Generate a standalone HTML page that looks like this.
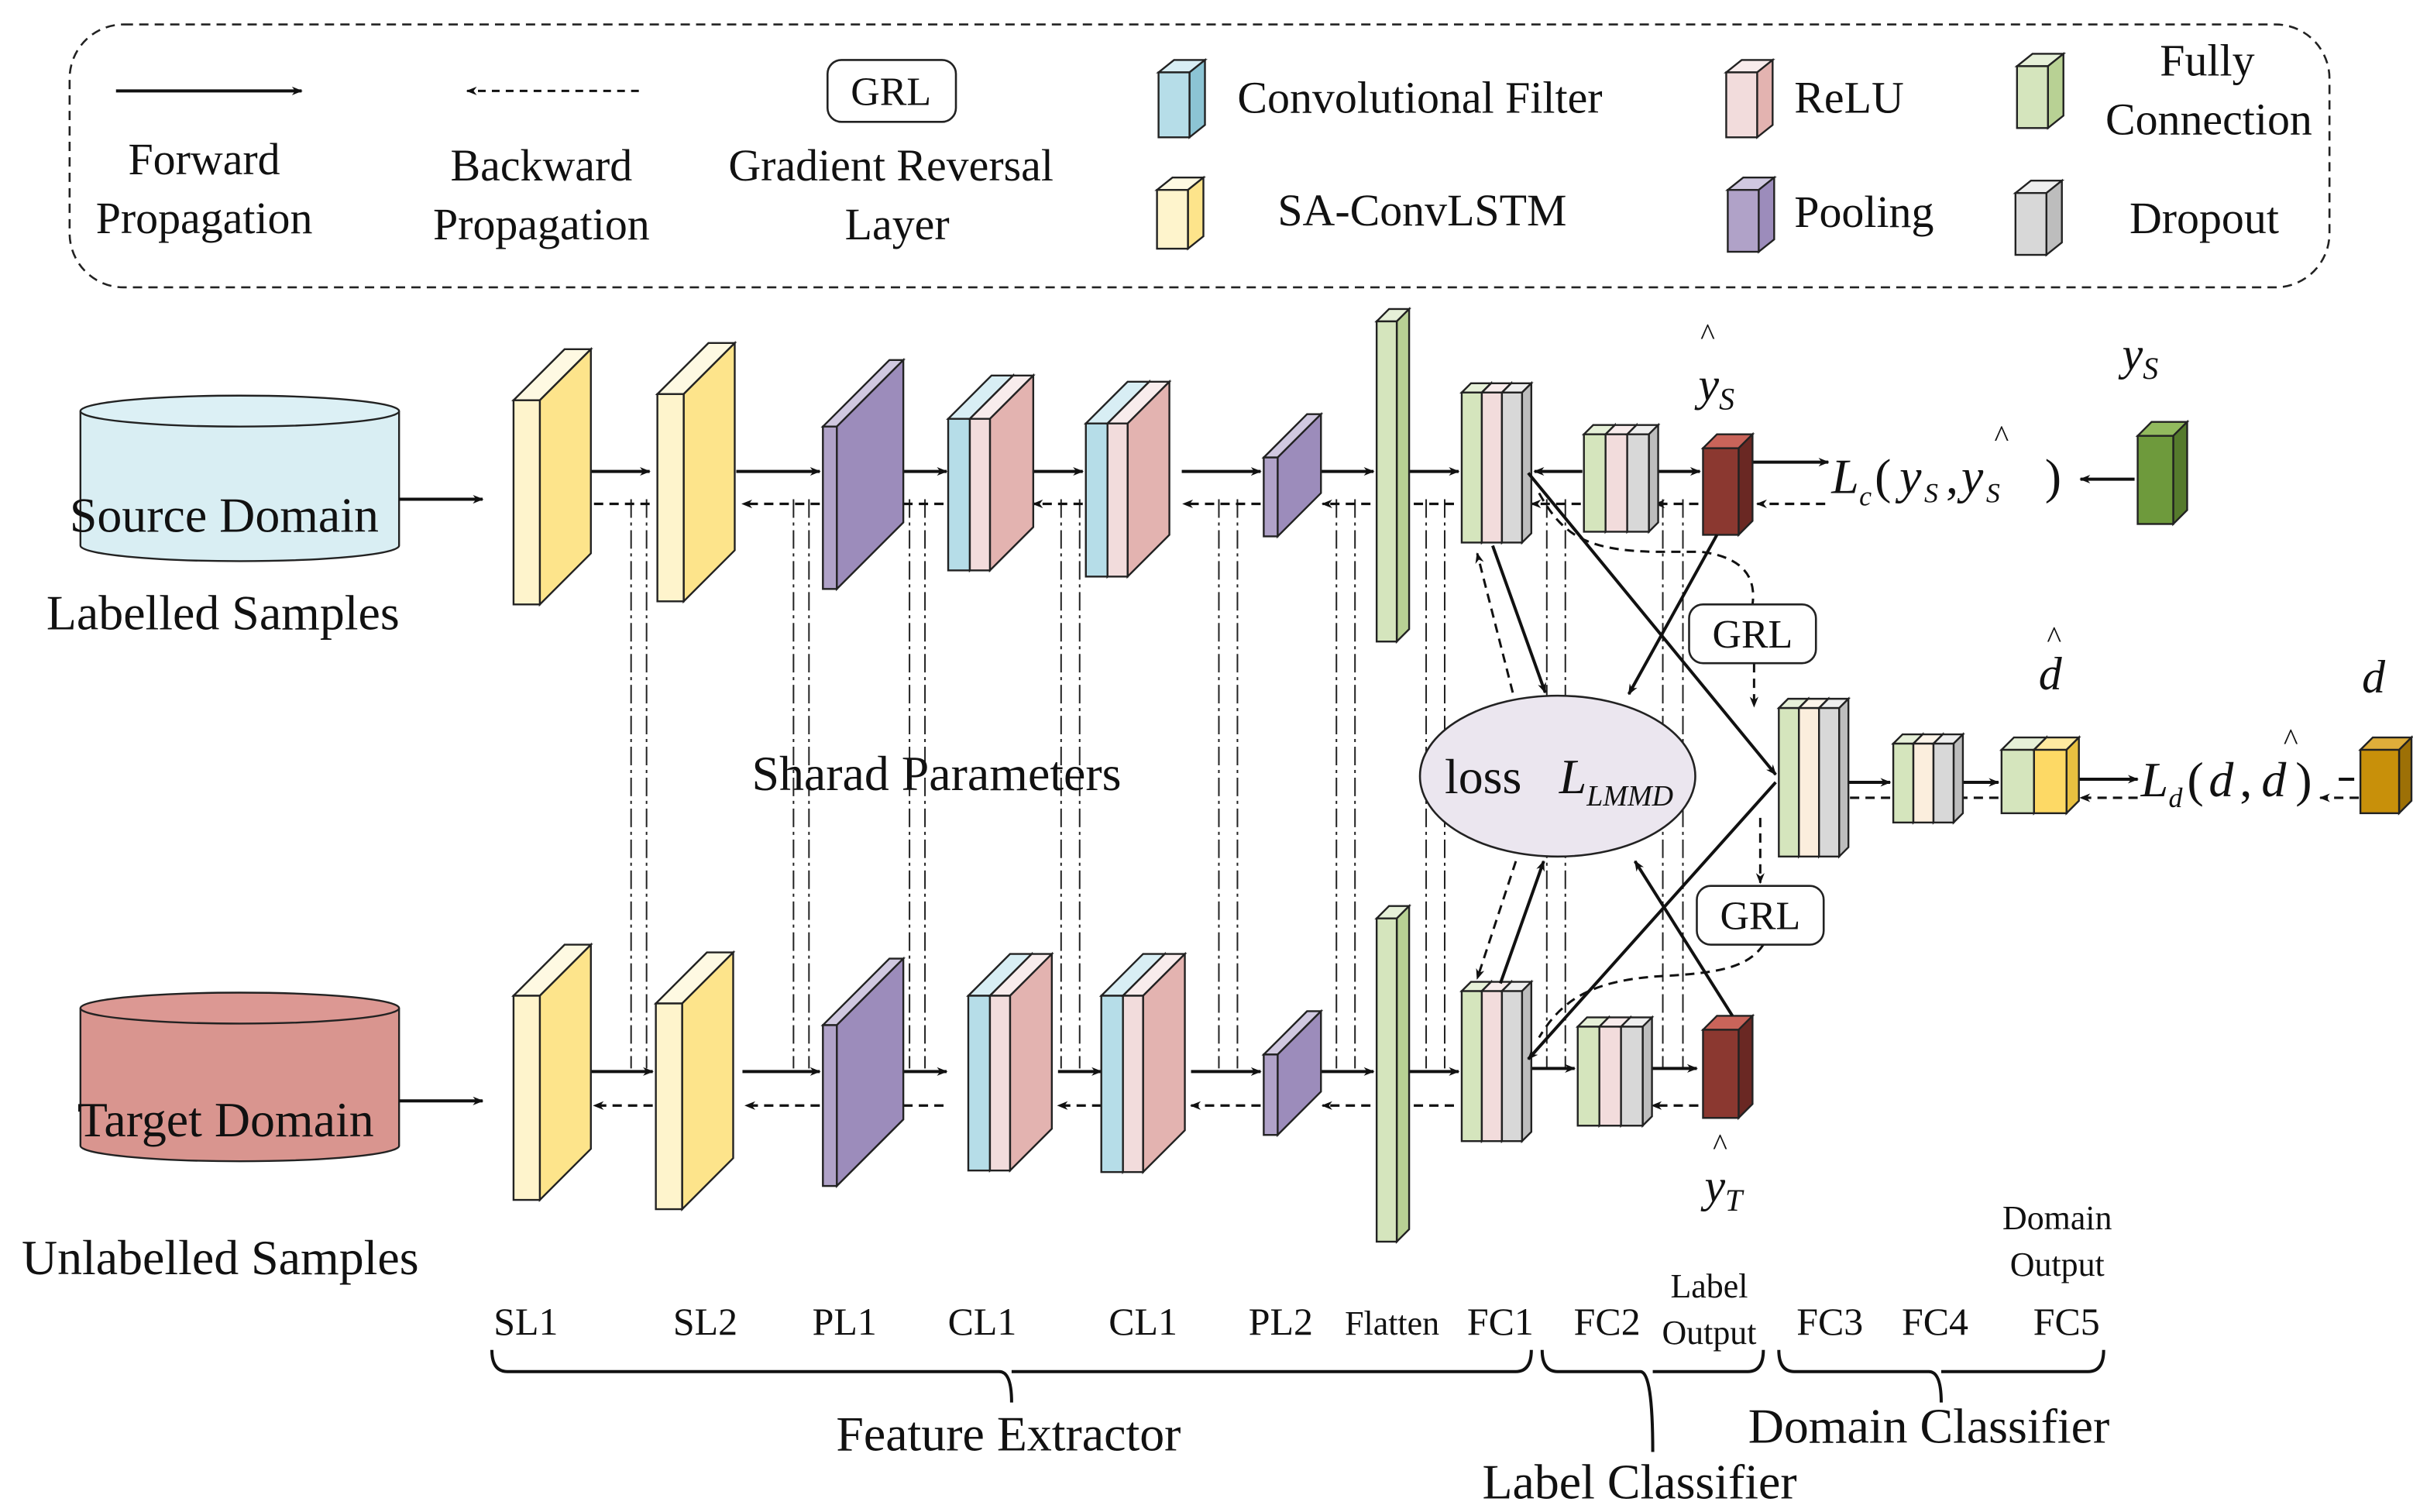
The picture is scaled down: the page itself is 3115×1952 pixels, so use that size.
<!DOCTYPE html>
<html><head><meta charset="utf-8"><style>
html,body{margin:0;padding:0;background:#fff;width:3115px;height:1952px;overflow:hidden}
svg{display:block}
text{font-family:"Liberation Serif",serif;fill:#111}
</style></head><body>
<svg id="s" width="3115" height="1952" viewBox="0 0 1560 976" xmlns="http://www.w3.org/2000/svg">
<defs>
<marker id="a" viewBox="0 0 10 10" refX="9" refY="5" markerWidth="7" markerHeight="7" orient="auto-start-reverse" markerUnits="userSpaceOnUse"><path d="M0,1 L10,5 L0,9 L3,5z" fill="#111"/></marker>
</defs>
<g id="g"></g>
</svg>
<script>
const g=document.getElementById('g');let h='';
function add(s){h+=s;}
function box(x,y,w,hh,d,f,t,s,dy){dy=dy===undefined?d:dy;
add(`<polygon points="${x},${y} ${x+d},${y-dy} ${x+w+d},${y-dy} ${x+w},${y}" fill="${t}" stroke="#222" stroke-width="1.2"/>`);
add(`<polygon points="${x+w},${y} ${x+w+d},${y-dy} ${x+w+d},${y+hh-dy} ${x+w},${y+hh}" fill="${s}" stroke="#222" stroke-width="1.2"/>`);
add(`<rect x="${x}" y="${y}" width="${w}" height="${hh}" fill="${f}" stroke="#222" stroke-width="1.2"/>`);}
const Y=['#fef4cc','#fef9e2','#fde48b'],P=['#b0a2c8','#d0c8e0','#9c8cbb'],B=['#b6dde8','#d8eef4','#8cc4d4'],R=['#f2dcdc','#f8ecec','#e3b3b0'],G=['#d5e5bd','#e6f0d8','#b8d194'],Gr=['#d8d8d8','#eeeeee','#bdbdbd'];
function b3(c,x,y,w,hh,d){box(x,y,w,hh,d,c[0],c[1],c[2]);}
function cl(x,y,hh,d){b3(B,x,y,14,hh,d);box(x+14,y,13,hh,d,R[0],R[1],'#e3b3b0');}
function fc(x,y,w,hh,d,cs){cs.forEach((c,i)=>b3(c,x+i*w,y,w,hh,d));}
function cyl(x,y1,y2,w,f,f2){add(`<path d="M${x},${y1} L${x},${y2} A${w/2},10 0 0 0 ${x+w},${y2} L${x+w},${y1}" fill="${f}" stroke="#222" stroke-width="1.2"/><ellipse cx="${x+w/2}" cy="${y1}" rx="${w/2}" ry="10" fill="${f2}" stroke="#222" stroke-width="1.2"/>`);}
cyl(52,265,352,206,'#d9eef3','#dcf0f5');cyl(52,651,740,206,'#d9958f','#dc9893');
add(`<rect x="45" y="15" width="1461" height="170" rx="35" fill="none" stroke="#222" stroke-width="1.3" stroke-dasharray="6,4"/>`);
add(`<line x1="75" y1="58" x2="195" y2="58" stroke="#111" stroke-width="2" marker-end="url(#a)"/>`);
add(`<line x1="413" y1="58" x2="302" y2="58" stroke="#111" stroke-width="1.5" stroke-dasharray="5,4" marker-end="url(#a)"/>`);
add(`<rect x="535" y="38" width="83" height="40" rx="9" fill="#fff" stroke="#222" stroke-width="1.3"/><text x="576" y="67" font-size="26" text-anchor="middle">GRL</text>`);
box(749,46,20,42,10,B[0],B[1],B[2],8);box(1116,46,20,42,10,R[0],R[1],R[2],8);box(1304,42,20,40,10,G[0],G[1],G[2],8);
box(748,122,20,38,10,Y[0],Y[1],Y[2],8);box(1117,122,20,40,10,P[0],P[1],P[2],8);box(1303,124,20,40,10,Gr[0],Gr[1],Gr[2],8);
const T=(x,y,s,t,a,st)=>add(`<text x="${x}" y="${y}" font-size="${s}" text-anchor="${a||'start'}" ${st?'font-style="italic"':''}>${t}</text>`);
T(132,112,29,'Forward','middle');T(132,150,29,'Propagation','middle');T(350,116,29,'Backward','middle');T(350,154,29,'Propagation','middle');
T(576,116,29,'Gradient Reversal','middle');T(580,154,29,'Layer','middle');
T(800,72,29,'Convolutional Filter');T(1160,72,29,'ReLU');T(1427,48,29,'Fully','middle');T(1428,86,29,'Connection','middle');
T(826,145,29,'SA-ConvLSTM');T(1160,146,29,'Pooling');T(1425,150,29,'Dropout','middle');
[408,418,513,523,588,598,686,698,788,800,864,876,922,934,1000,1012,1075,1088].forEach(x=>add(`<line x1="${x}" y1="322" x2="${x}" y2="690" stroke="#222" stroke-width="1" stroke-dasharray="12,3,2,3"/>`));
function fw(x1,x2,y){add(`<line x1="${x1}" y1="${y}" x2="${x2}" y2="${y}" stroke="#111" stroke-width="2" marker-end="url(#a)"/>`);}
function bw(x1,x2,y){add(`<line x1="${x1}" y1="${y}" x2="${x2}" y2="${y}" stroke="#111" stroke-width="1.6" stroke-dasharray="6,4" marker-end="url(#a)"/>`);}
fw(258,312,322);fw(366,420,304);fw(476,530,304);fw(560,612,304);fw(668,700,304);fw(764,815,304);fw(836,888,304);fw(906,943,304);fw(1070,1099,304);fw(1133,1182,298);
bw(1180,1136,325);bw(1098,1070,325);bw(1022,990,325);bw(940,905,325);bw(886,855,325);bw(815,765,325);bw(700,668,325);bw(610,560,325);bw(530,480,325);bw(420,370,325);
add(`<line x1="1023" y1="304" x2="992" y2="304" stroke="#111" stroke-width="2" marker-end="url(#a)"/>`);
fw(258,312,711);fw(378,422,692);fw(480,530,692);fw(560,612,692);fw(684,712,692);fw(770,815,692);fw(836,888,692);fw(906,943,692);fw(990,1018,690);fw(1068,1097,690);
bw(1098,1068,714);bw(940,905,714);bw(886,855,714);bw(815,770,714);bw(712,684,714);bw(610,565,714);bw(530,482,714);bw(422,384,714);
fw(1192,1222,505);fw(1266,1292,505);fw(1340,1382,503);bw(1382,1345,515);bw(1292,1262,515);bw(1222,1186,515);bw(1525,1500,515);
add(`<line x1="1522" y1="503" x2="1512" y2="503" stroke="#111" stroke-width="2"/>`);
add(`<line x1="1380" y1="309" x2="1345" y2="309" stroke="#111" stroke-width="2" marker-end="url(#a)"/>`);
b3(Y,332,258,17,132,33);b3(Y,425,254,17,134,33);b3(P,532,275,9,105,43);cl(613,270,98,28);cl(702,273,99,27);b3(P,817,295,9,51,28);b3(G,890,207,13,207,8);
fc(945,253,13,97,6,[G,R,Gr]);fc(1024,280,14,63,6,[G,R,Gr]);box(1101,289,23,56,9,'#8b3830','#c9645a','#6a2823');box(1382,281,23,57,9,'#6e9a3c','#92ba5e','#557a2c');
b3(Y,332,643,17,132,33);b3(Y,424,648,17,133,33);b3(P,532,662,9,104,43);cl(626,643,113,27);cl(712,643,114,27);b3(P,817,681,9,52,28);b3(G,890,593,13,209,8);
fc(945,640,13,97,6,[G,R,Gr]);fc(1020,663,14,64,6,[G,R,Gr]);box(1101,665,23,57,9,'#8b3830','#c9645a','#6a2823');
fc(1150,457,13,96,6,[G,['#fbeedd','#fdf5ea','#efd9bf'],Gr]);fc(1224,480,13,51,6,[G,['#fbeedd','#fdf5ea','#efd9bf'],Gr]);
b3(G,1294,484,21,41,8);b3(['#fdd965','#feeaa0','#e8c040'],1315,484,21,41,8);box(1526,484,25,41,8,'#c8900a','#dfae3a','#9d7006');
add(`<ellipse cx="1007" cy="501" rx="89" ry="52" fill="#ebe6ef" stroke="#222" stroke-width="1.3"/>`);
const L=(x1,y1,x2,y2,d)=>add(`<line x1="${x1}" y1="${y1}" x2="${x2}" y2="${y2}" stroke="#111" stroke-width="${d?1.5:2}" ${d?'stroke-dasharray="6,4"':''} marker-end="url(#a)"/>`);
L(988,305,1148,500);L(965,352,999,447);L(978,447,955,357,1);L(1110,345,1053,448);
L(970,635,998,556);L(980,556,955,632,1);L(1148,505,988,684);L(1120,656,1057,556);
add(`<path d="M995,318 C1010,345 1025,355 1070,356 L1100,356 C1130,360 1135,375 1133,390" fill="none" stroke="#111" stroke-width="1.5" stroke-dasharray="6,4"/>`);
add(`<path d="M1140,610 C1130,625 1110,628 1080,630 C1030,632 1010,645 995,670" fill="none" stroke="#111" stroke-width="1.5" stroke-dasharray="6,4"/>`);
L(1134,428,1134,456,1);L(1138,528,1138,570,1);
add(`<rect x="1092" y="390" width="82" height="38" rx="9" fill="#fff" stroke="#222" stroke-width="1.3"/><rect x="1097" y="572" width="82" height="38" rx="9" fill="#fff" stroke="#222" stroke-width="1.3"/>`);
T(1133,418,26,'GRL','middle');T(1138,600,26,'GRL','middle');
T(45,343,32,'Source Domain');T(30,406,32,'Labelled Samples');T(50,734,32,'Target Domain');T(14,823,32,'Unlabelled Samples');
T(486,510,32,'Sharad Parameters');T(934,512,32,'loss');add(`<text x="1008" y="512" font-size="32" font-style="italic">L<tspan font-size="19" dy="8">LMMD</tspan></text>`);
add(`<text x="1098" y="258" font-size="30" font-style="italic">y<tspan font-size="20" dy="6">S</tspan></text>`);T(1104,222,20,'^','middle');
add(`<text x="1372" y="238" font-size="30" font-style="italic">y<tspan font-size="20" dy="6">S</tspan></text>`);
add(`<text x="1102" y="776" font-size="30" font-style="italic">y<tspan font-size="20" dy="6">T</tspan></text>`);T(1112,746,20,'^','middle');
add(`<text x="1318" y="445" font-size="30" font-style="italic">d</text><text x="1527" y="447" font-size="30" font-style="italic">d</text>`);T(1328,418,20,'^','middle');
// Lc formula
T(1184,318,32,'L','start',1);T(1202,326,18,'c','start',1);T(1212,318,32,'(');T(1228,318,32,'y','start',1);T(1244,324,18,'S','start',1);T(1258,318,32,',');
T(1268,318,32,'y','start',1);T(1284,324,18,'S','start',1);T(1322,318,32,')');T(1294,288,20,'^','middle');
// Ld formula
T(1384,514,32,'L','start',1);T(1402,521,18,'d','start',1);T(1414,514,32,'(');T(1428,514,32,'d','start',1);T(1448,514,32,',');T(1462,514,32,'d','start',1);T(1484,514,32,')');T(1481,484,20,'^','middle');
[[340,'SL1'],[456,'SL2'],[546,'PL1'],[635,'CL1'],[739,'CL1'],[828,'PL2'],[970,'FC1'],[1039,'FC2'],[1183,'FC3'],[1251,'FC4'],[1336,'FC5']].forEach(([x,t])=>T(x,862,25,t,'middle'));
T(900,862,22,'Flatten','middle');T(1105,838,22,'Label','middle');T(1105,868,22,'Output','middle');T(1330,794,22,'Domain','middle');T(1330,824,22,'Output','middle');
function brace(x1,x2,y,stem){const m=(x1+x2)/2;add(`<path d="M${x1},${y-14} Q${x1},${y} ${x1+10},${y} L${m-8},${y} Q${m},${y} ${m},${y+stem} M${m},${y} Q${m},${y} ${m+8},${y} L${x2-10},${y} Q${x2},${y} ${x2},${y-14}" fill="none" stroke="#111" stroke-width="2"/>`);}
brace(318,990,886,20);brace(997,1140,886,52);brace(1150,1360,886,20);
T(652,937,32,'Feature Extractor','middle');T(1060,968,32,'Label Classifier','middle');T(1247,932,32,'Domain Classifier','middle');
g.innerHTML=h;
</script>
</body></html>
